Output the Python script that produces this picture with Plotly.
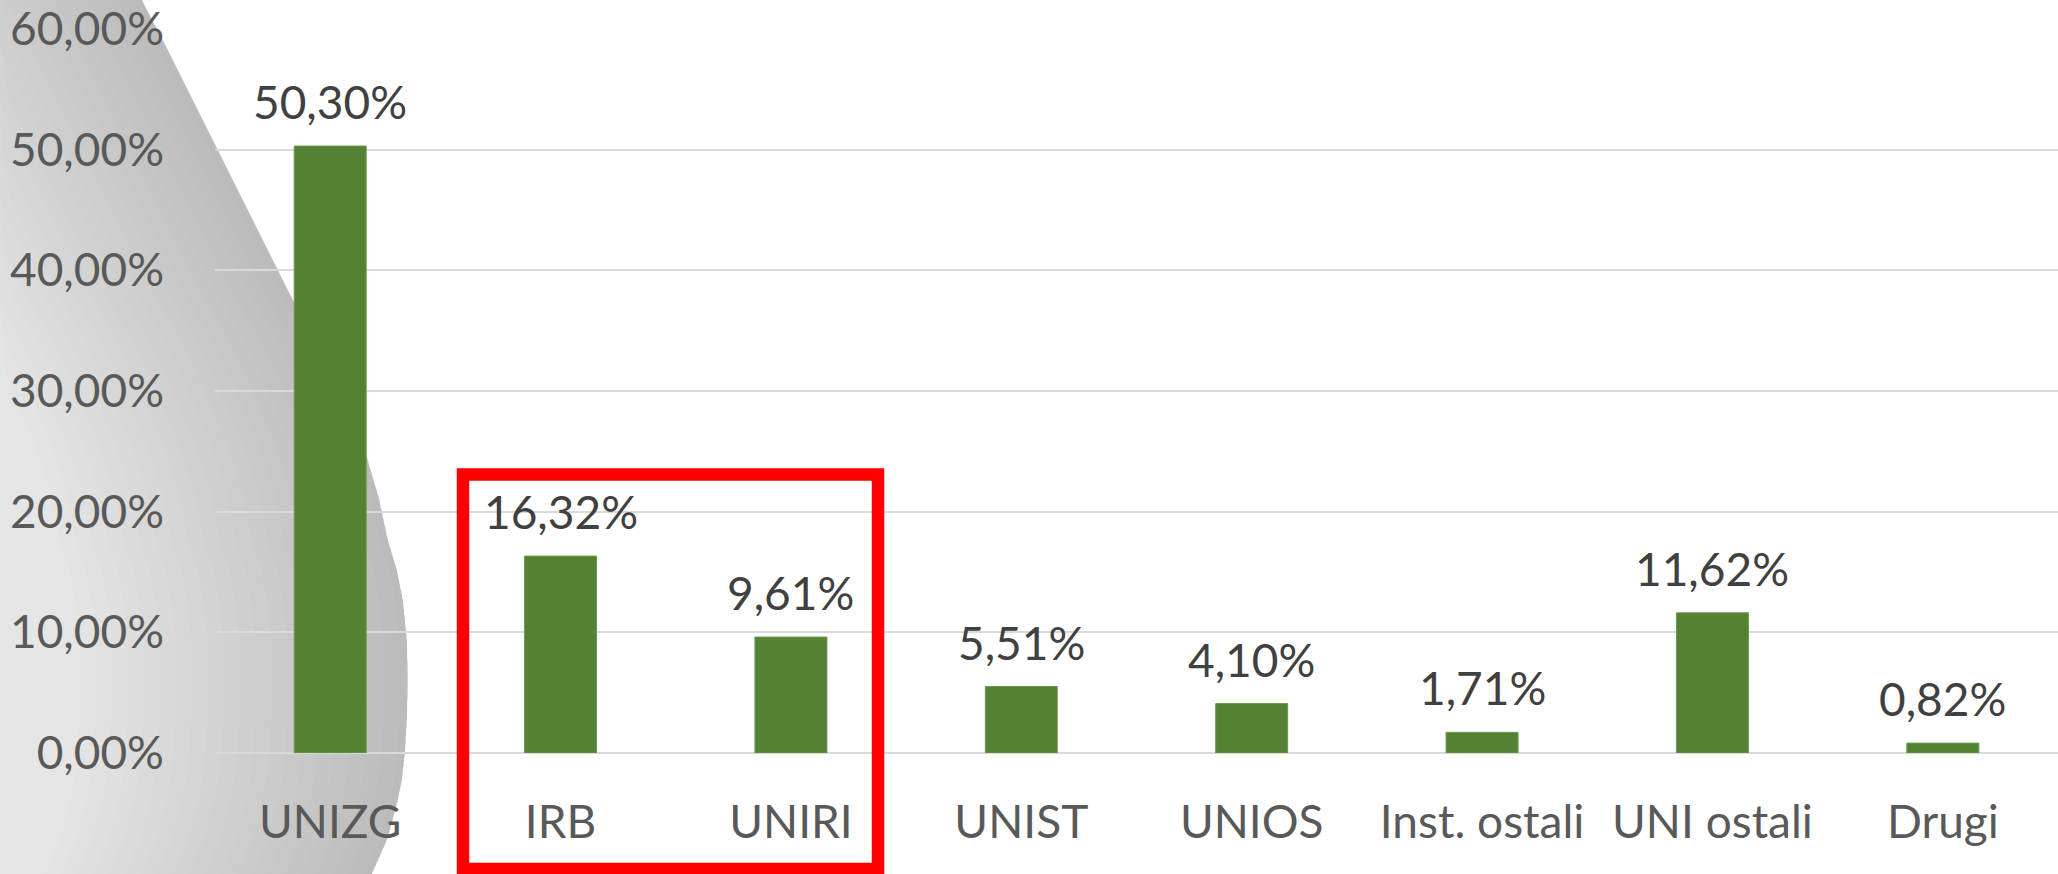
import plotly.graph_objects as go

# ---- data ----
categories = ["UNIZG", "IRB", "UNIRI", "UNIST", "UNIOS", "Inst. ostali", "UNI ostali", "Drugi"]
shares = [0.5030, 0.1632, 0.0961, 0.0551, 0.0410, 0.0171, 0.1162, 0.0082]
y_ticks = [0.0, 0.1, 0.2, 0.3, 0.4, 0.5, 0.6]

# ---- layout geometry (pixels) ----
W, H = 2058, 874
ML, MR, MT, MB = 215, 0, 29, 121
PW, PH = W - ML - MR, H - MT - MB


def px(x, y):
    """pixel -> paper coordinates"""
    return (x - ML) / PW, (H - MB - y) / PH


def path_from(points):
    parts = []
    for i, (x, y) in enumerate(points):
        X, Y = px(x, y)
        parts.append(("M" if i == 0 else "L") + f"{X:.5f},{Y:.5f}")
    return " ".join(parts) + " Z"


# decorative grey blob edge (pixel coords)
edge = [(142, 0), (168, 50), (193, 100), (218, 150), (243, 200), (268, 250), (293, 300),
        (316, 340), (335, 380), (352, 418), (367, 457), (379, 498), (388, 540), (397, 570),
        (403, 600), (407, 640), (408, 680), (407, 720), (405, 753), (402, 780), (398, 800),
        (388, 838), (372, 874)]

shapes = []
blob = [(0, 0)] + edge + [(0, 874)]
shapes.append(dict(type="path", xref="paper", yref="paper", path=path_from(blob),
                   fillcolor="#e5e5e5", line=dict(width=0), layer="below"))
for d in range(8, 330, 16):
    band = edge + [(max(x - d, 0), y) for (x, y) in reversed(edge)]
    shapes.append(dict(type="path", xref="paper", yref="paper", path=path_from(band),
                       fillcolor="rgba(0,0,0,0.009)", line=dict(width=0), layer="below"))

# red highlight rectangle
rx0, ry0 = px(463, 474.5)
rx1, ry1 = px(878, 869)
shapes.append(dict(type="rect", xref="paper", yref="paper", x0=rx0, y0=ry1, x1=rx1, y1=ry0,
                   line=dict(color="#ff0000", width=12.5), fillcolor="rgba(0,0,0,0)", layer="above"))

fig = go.Figure()
fig.add_trace(go.Bar(
    x=categories, y=shares,
    marker=dict(color="#548235", line=dict(color="#6a9a4a", width=1)),
    hoverinfo="skip",
))

annotations = []
for c, v in zip(categories, shares):
    annotations.append(dict(
        x=c, y=v, xref="x", yref="y", text=f"{v*100:.2f}%".replace(".", ","),
        showarrow=False, yanchor="bottom", yshift=15,
        font=dict(family="Lato", size=46, color="#404040"),
    ))

fig.update_layout(
    width=W, height=H,
    margin=dict(l=ML, r=MR, t=MT, b=MB, pad=0),
    paper_bgcolor="white", plot_bgcolor="rgba(0,0,0,0)",
    separators=",.",
    bargap=0.6876,
    showlegend=False,
    shapes=shapes,
    annotations=annotations,
    font=dict(family="Lato", size=46, color="#595959"),
)
fig.update_xaxes(
    showgrid=False, showline=False, zeroline=False, ticks="",
    tickfont=dict(family="Lato", size=46, color="#595959"),
    ticklabelstandoff=38,
)
fig.update_yaxes(
    range=[0, 0.6], tickvals=y_ticks, tickformat=".2%",
    showgrid=True, gridcolor="#d9d9d9", gridwidth=2,
    zeroline=True, zerolinecolor="#d9d9d9", zerolinewidth=2,
    showline=False, ticks="",
    tickfont=dict(family="Lato", size=46, color="#595959"),
    ticklabelstandoff=50,
)

fig.write_html("out.html", config={"displayModeBar": False},
               post_script="document.body.style.margin='0';document.body.style.overflow='hidden';")
